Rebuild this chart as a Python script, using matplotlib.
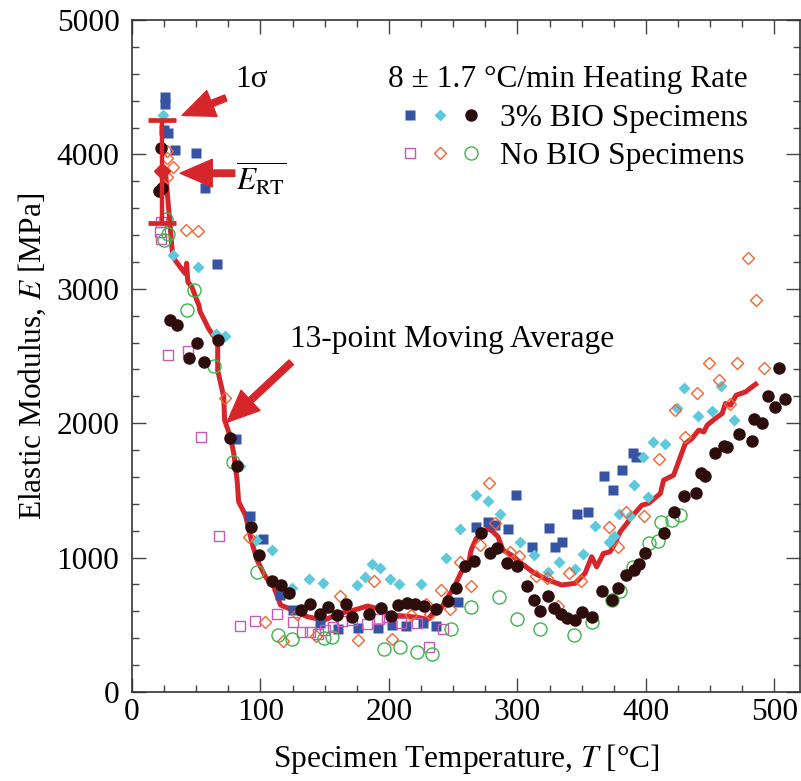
import numpy as np
import matplotlib
matplotlib.use("Agg")
import matplotlib.pyplot as plt
from matplotlib.ticker import MultipleLocator
from matplotlib.legend_handler import HandlerTuple

# -----------------------------
# DATA
# -----------------------------
# 3% BIO specimens
bio_sq_T = [25.3, 25.3, 25.0, 28.4, 33.8, 49.5, 56.5, 65.9, 81.0, 92.2, 102.0, 115.0, 125.2, 146.3,
            160.4, 176.0, 191.1, 202.6, 213.5, 226.3, 236.5, 253.6, 267.4, 277.1, 282.3, 292.4,
            298.7, 311.2, 324.5, 329.2, 334.6, 346.4, 355.0, 367.4, 374.5, 381.3, 389.6, 392.7]
bio_sq_E = [4426, 4377, 4183, 4161, 4030, 4007, 3752, 3182, 1881, 1309, 1135, 719, 610, 511,
            468, 476, 476, 498, 488, 511, 488, 667, 1225, 1262, 1242, 1210,
            1462, 1076, 1217, 1076, 1115, 1321, 1336, 1604, 1500, 1651, 1777, 1752]

bio_di_T = [24.0, 31.8, 51.3, 65.6, 72.7, 84.4, 96.6, 109.1, 124.5, 137.8, 149.0, 175.0, 181.3,
            186.5, 192.7, 200.5, 207.6, 224.8, 244.8, 255.0, 268.0, 277.1, 286.7, 302.1, 313.3,
            323.7, 332.3, 344.8, 351.0, 360.7, 371.3, 375.0, 379.4, 387.8, 390.4, 397.4, 401.3,
            405.5, 415.1, 424.0, 429.4, 440.6, 451.8, 458.8, 468.8]
bio_di_E = [4290, 3254, 3162, 2662, 2647, 1683, 1130, 1056, 776, 838, 813, 793, 857,
            949, 924, 842, 805, 805, 996, 1214, 1465, 1418, 1321, 1113, 1019,
            890, 964, 912, 1026, 1234, 1113, 1158, 1323, 1309, 1539, 1745, 1452,
            1859, 1846, 2114, 2265, 2054, 2092, 2277, 2022]

bio_ci_T = [22.7, 21.3, 23.2, 29.7, 34.9, 50.5, 44.0, 56.3, 66.7, 76.0, 81.8, 92.7, 99.2, 108.6,
            116.2, 122.1, 131.3, 138.3, 146.1, 152.6, 159.9, 166.4, 171.6, 184.6, 194.0, 201.6,
            207.3, 214.1, 220.6, 227.6, 236.7, 245.9, 252.3, 259.4, 265.9, 271.9, 278.4, 284.4,
            292.2, 300.0, 307.3, 312.8, 317.7, 323.7, 328.1, 333.8, 338.8, 344.8, 350.0, 357.8,
            365.6, 374.0, 378.6, 384.4, 390.4, 395.0, 399.5, 413.8, 421.6, 429.4, 439.3, 443.2,
            446.4, 454.1, 460.7, 463.3, 472.4, 482.8, 484.1, 490.1, 494.8, 500.5, 508.0, 503.6]
bio_ci_E = [4050, 3725, 3747, 2771, 2729, 2593, 2488, 2456, 2622, 1893, 1683, 1229, 1016, 828,
            798, 734, 610, 654, 580, 634, 575, 654, 560, 577, 622, 565,
            647, 664, 656, 639, 615, 677, 773, 937, 976, 1180, 1036, 1073,
            961, 937, 788, 684, 602, 714, 622, 577, 548, 535, 597, 558,
            751, 684, 771, 870, 907, 952, 1036, 1180, 1336, 1460, 1477, 1626,
            1606, 1775, 1831, 1824, 1923, 1866, 2030, 1998, 2203, 2121, 2178, 2411]

# No BIO specimens
no_sq_T = [22.4, 21.9, 22.4, 28.4, 43.2, 53.7, 67.4, 84.4, 96.1, 112.7, 125.0, 132.6, 138.3,
           144.8, 150.5, 156.5, 163.3, 171.6, 182.8, 192.2, 198.2, 209.4, 221.6, 231.5, 242.4]
no_sq_E = [3497, 3422, 3373, 2511, 2535, 1898, 1160, 491, 526, 582, 518, 448, 448,
           431, 461, 486, 530, 535, 506, 540, 555, 515, 515, 335, 471]

no_di_T = [27.1, 27.6, 32.3, 27.6, 42.2, 51.3, 72.1, 90.9, 103.9, 117.7, 128.1, 143.5, 161.7,
           176.0, 188.0, 202.3, 217.4, 228.7, 232.3, 240.6, 247.7, 255.0, 263.5, 271.1, 277.6,
           282.8, 294.0, 301.6, 314.1, 322.9, 331.8, 339.8, 349.8, 371.3, 378.1, 384.9, 398.9,
           410.4, 430.7, 422.4, 439.8, 456.8, 465.4, 479.4, 485.4, 449.5, 471.1, 492.2]
no_di_E = [4025, 3975, 3906, 3831, 3440, 3430, 2191, 1150, 518, 381, 580, 419, 716,
           387, 825, 394, 575, 652, 577, 758, 617, 969, 790, 1093, 1552,
           1259, 1039, 1009, 860, 850, 642, 887, 825, 1229, 1080, 1341, 1311,
           1732, 1898, 2097, 2228, 2320, 2141, 3232, 2915, 2451, 2451, 2411]

no_ci_T = [26.3, 28.4, 24.8, 47.9, 42.7, 64.1, 78.6, 97.4, 113.8, 124.2, 149.7, 156.0, 196.1,
           208.8, 221.6, 233.8, 248.4, 264.0, 285.4, 299.5, 317.4, 343.8, 357.8, 374.0, 380.0,
           389.6, 402.6, 409.1, 411.5, 420.3, 426.3]
no_ci_E = [3522, 3405, 3361, 2989, 2840, 2426, 1712, 892, 424, 394, 401, 411, 317,
           337, 295, 285, 468, 634, 709, 543, 468, 424, 523, 684, 753,
           927, 1106, 1123, 1262, 1279, 1314]

# 13-point moving average
ma_T = [26.0, 31.5, 33.6, 41.4, 42.5, 43.5, 46.6, 50.5, 52.0, 53.0, 55.7, 59.6, 64.8, 66.7,
        66.7, 71.4, 72.1, 76.6, 79.2, 81.8, 83.0, 88.3, 93.5, 97.4, 103.9, 110.4, 115.6, 124.8,
        136.5, 149.4, 162.5, 172.9, 183.3, 193.8, 201.6, 212.0, 222.4, 230.2, 235.4, 240.6,
        245.9, 251.0, 256.3, 261.5, 264.0, 268.0, 271.9, 277.1, 281.0, 284.9, 288.8, 295.3,
        303.1, 313.5, 324.0, 334.4, 344.8, 352.6, 357.8, 361.7, 367.0, 372.1, 376.0, 380.0,
        385.2, 389.0, 396.9, 402.0, 411.2, 413.8, 421.6, 426.8, 430.7, 435.9, 441.1, 445.1,
        447.7, 454.1, 459.4, 461.9, 465.9, 470.3, 477.6, 485.4]
ma_E = [3880, 3260, 3212, 3113, 3190, 3050, 3013, 2914, 2880, 2830, 2780, 2704, 2630, 2620,
        2394, 2196, 2022, 1898, 1775, 1576, 1415, 1316, 1106, 981, 857, 783, 647, 610,
        560, 535, 585, 610, 639, 615, 572, 565, 555, 540, 597, 622,
        709, 783, 894, 932, 1056, 1143, 1167, 1217, 1192, 1155, 1056, 1019,
        957, 882, 833, 796, 808, 882, 1006, 931, 1031, 1043, 1106, 1192,
        1254, 1304, 1390, 1403, 1476, 1576, 1613, 1749, 1849, 1886, 1948, 1935,
        1985, 2035, 2072, 2147, 2134, 2208, 2233, 2290]

# room temperature mean and 1 sigma
T_RT = 23.5
E_RT_mean = 3876
E_RT_sd = 383

# -----------------------------
# STYLE
# -----------------------------
plt.rcParams['font.family'] = ['Liberation Serif', 'DejaVu Serif']
plt.rcParams['mathtext.fontset'] = 'stix'
RED = '#d7262b'
FS = 22.6

fig = plt.figure(figsize=(8.01, 7.81), dpi=100)
ax = fig.add_axes([0.1648, 0.1140, 0.8340, 0.8604])

ax.plot(ma_T, ma_E, color=RED, lw=3.6, zorder=2)

h_bsq, = ax.plot(bio_sq_T, bio_sq_E, 's', ms=6.8, color='#3653a4', mec='none', zorder=3)
h_bdi, = ax.plot(bio_di_T, bio_di_E, 'D', ms=5.8, color='#5ec9dc', mec='none', zorder=3)
h_nsq, = ax.plot(no_sq_T, no_sq_E, 's', ms=7.2, mfc='none', mec='#c65bb5', mew=1.0, zorder=3)
h_ndi, = ax.plot(no_di_T, no_di_E, 'D', ms=6.2, mfc='none', mec='#f26532', mew=1.0, zorder=3)
h_nci, = ax.plot(no_ci_T, no_ci_E, 'o', ms=9.4, mfc='none', mec='#3cb54a', mew=1.0, zorder=3)
h_bci, = ax.plot(bio_ci_T, bio_ci_E, 'o', ms=9.0, color='#2e0d0d', mec='none', zorder=4)

ax.errorbar([T_RT], [E_RT_mean], yerr=[E_RT_sd], fmt='D', ms=7.8, color=RED,
            ecolor=RED, elinewidth=3.2, capsize=10, capthick=3.4, zorder=5)

# annotations
arr = dict(arrowstyle='simple,head_length=1.1,head_width=0.95,tail_width=0.22',
           color=RED, mutation_scale=21, shrinkA=0, shrinkB=0)
ax.annotate('', xy=(39, 4290), xytext=(73, 4420), arrowprops=arr, zorder=6)
ax.text(80, 4560, '1σ', fontsize=FS, ha='left', va='center')
ax.annotate('', xy=(37.5, 3860), xytext=(80, 3860), arrowprops=arr, zorder=6)
ax.text(81, 3820, r'$\overline{E_{\mathrm{RT}}}$', fontsize=FS, ha='left', va='center')
ax.annotate('', xy=(74, 2007), xytext=(124, 2453), arrowprops=arr, zorder=6)
ax.text(123, 2620, '13-point Moving Average', fontsize=FS, ha='left', va='center')

# axes
ax.set_xlim(0, 520)
ax.set_ylim(0, 5000)
ax.xaxis.set_major_locator(MultipleLocator(100))
ax.xaxis.set_minor_locator(MultipleLocator(25))
ax.yaxis.set_major_locator(MultipleLocator(1000))
ax.yaxis.set_minor_locator(MultipleLocator(200))
ax.tick_params(which='both', direction='in', top=True, right=True, color='#444444', width=1)
ax.tick_params(which='major', length=10)
ax.tick_params(which='minor', length=5)
ax.tick_params(axis='x', labelsize=FS, pad=4)
ax.tick_params(axis='y', labelsize=FS, pad=9)
for s in ax.spines.values():
    s.set_linewidth(1.2)
    s.set_color('#333333')

ax.set_xlabel('Specimen Temperature, $\\it{T}$ [°C]', fontsize=FS, labelpad=11)
ax.set_ylabel('Elastic Modulus, $\\it{E}$ [MPa]', fontsize=FS, labelpad=6)

leg = ax.legend([(h_bsq, h_bdi, h_bci), (h_nsq, h_ndi, h_nci)],
                ['3% BIO Specimens', 'No BIO Specimens'],
                title='8 ± 1.7 °C/min Heating Rate', title_fontsize=FS, fontsize=FS,
                handler_map={tuple: HandlerTuple(ndivide=None, pad=0)},
                handlelength=2.9, handletextpad=0.45, labelspacing=0.3,
                loc='upper right', bbox_to_anchor=(0.955, 0.965), frameon=False,
                alignment='right', borderpad=0.2)

fig.savefig('out.png', dpi=100)
